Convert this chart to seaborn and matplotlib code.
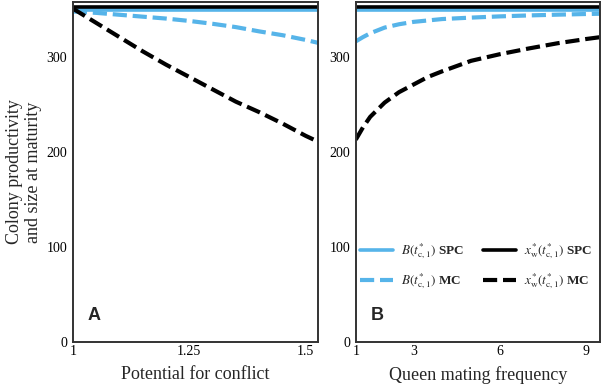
import matplotlib
matplotlib.use("Agg")
import matplotlib.pyplot as plt
import seaborn as sns
from matplotlib.lines import Line2D

# panel A: potential for conflict
conflict_x = [1.0, 1.05, 1.1, 1.15, 1.2, 1.25, 1.3, 1.35, 1.4, 1.45, 1.5, 1.526]
conflict_B_mc = [348, 346.5, 344.5, 342.5, 340.5, 338, 335, 331.5, 327, 323, 318, 315]
conflict_xw_mc = [351, 336, 321, 306, 292, 279, 266, 253, 242, 230, 217, 211]

# panel B: queen mating frequency
mating_x = [1, 1.25, 1.5, 2, 2.5, 3, 3.5, 4, 5, 6, 7, 8, 9, 9.5]
mating_B_mc = [316.5, 321, 325, 331, 334.5, 337, 338.5, 340, 341.5, 342.8, 343.8, 344.6, 345.3, 345.6]
mating_xw_mc = [213, 226, 237, 252, 263, 271, 279, 285, 296, 303, 309, 314.5, 319, 321]

B_spc = 349
xw_spc = 353

blue = "#56B4E9"
dash = (0, (3.4, 1.4))

sns.set_style("white")
plt.rcParams["font.family"] = ["Liberation Serif", "DejaVu Serif"]
plt.rcParams["mathtext.fontset"] = "stix"

fig = plt.figure(figsize=(6.02, 3.88), dpi=100)
axA = fig.add_axes([0.121, 0.1186, 0.407, 0.8764])
axB = fig.add_axes([0.591, 0.1186, 0.406, 0.8764])


def draw_panel(ax, xs, b_mc, xw_mc):
    sns.lineplot(x=xs, y=[B_spc] * len(xs), ax=ax, color=blue, lw=2.6)
    sns.lineplot(x=xs, y=[xw_spc] * len(xs), ax=ax, color="black", lw=2.6)
    sns.lineplot(x=xs, y=b_mc, ax=ax, color=blue, lw=3, linestyle=dash)
    sns.lineplot(x=xs, y=xw_mc, ax=ax, color="black", lw=3, linestyle=dash)
    ax.set_ylim(0, 358)
    ax.set_yticks([0, 100, 200, 300])
    for s in ax.spines.values():
        s.set_color("#333333")
        s.set_linewidth(1.4)
    ax.tick_params(axis="y", direction="out", length=3, width=1, pad=1,
                   labelsize=10, colors="#333333", labelcolor="black")
    ax.tick_params(axis="x", direction="in", length=3, width=1, pad=2,
                   labelsize=10, colors="#333333", labelcolor="black")


draw_panel(axA, conflict_x, conflict_B_mc, conflict_xw_mc)
axA.set_xlim(1, 1.526)
axA.set_xticks([1, 1.25, 1.5])
axA.set_xticklabels(["1", "1.25", "1.5"])
axA.set_xlabel("Potential for conflict", fontsize=13, labelpad=6)
axA.set_ylabel("Colony productivity\nand size at maturity", fontsize=13,
               labelpad=3, linespacing=1.2)
axA.text(0.06, 0.077, "A", transform=axA.transAxes, fontsize=13,
         fontweight="bold", family="Liberation Sans", va="center")

draw_panel(axB, mating_x, mating_B_mc, mating_xw_mc)
axB.set_xlim(1, 9.48)
axB.set_xticks([1, 3, 6, 9])
axB.set_xlabel("Queen mating frequency", fontsize=13, labelpad=6)
axB.set_ylabel("")
axB.text(0.06, 0.077, "B", transform=axB.transAxes, fontsize=13,
         fontweight="bold", family="Liberation Sans", va="center")

handles = [
    Line2D([], [], color=blue, lw=2.6),
    Line2D([], [], color=blue, lw=3, linestyle=dash),
    Line2D([], [], color="black", lw=2.6),
    Line2D([], [], color="black", lw=3, linestyle=dash),
]
labels = [
    r"$B(t^{*}_{\mathrm{c},1})$ SPC",
    r"$B(t^{*}_{\mathrm{c},1})$ MC",
    r"$x^{*}_{\mathrm{w}}(t^{*}_{\mathrm{c},1})$ SPC",
    r"$x^{*}_{\mathrm{w}}(t^{*}_{\mathrm{c},1})$ MC",
]
axB.legend(handles, labels, ncol=2, loc="upper left",
           bbox_to_anchor=(-0.014, 0.318), frameon=False,
           prop={"family": "Liberation Serif", "weight": "bold", "size": 9.5},
           handlelength=2.5, handletextpad=0.6, columnspacing=1.4,
           labelspacing=0.75, borderaxespad=0.2)

fig.savefig("out.png", dpi=100)
